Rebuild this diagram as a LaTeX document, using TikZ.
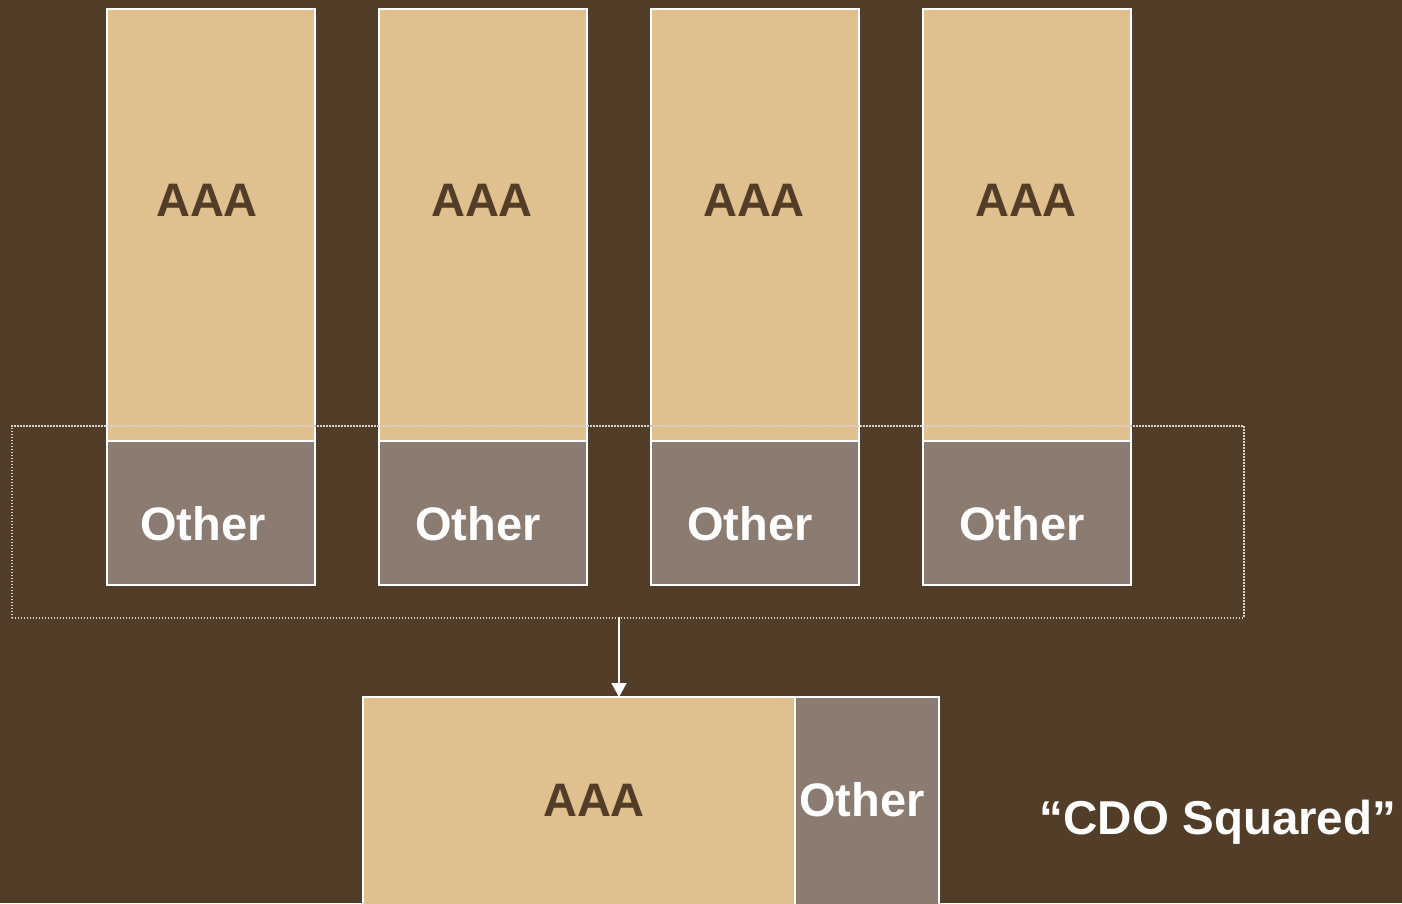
\documentclass[tikz,border=0pt]{standalone}
\usepackage{fontspec}
\setmainfont{Liberation Sans}
\usetikzlibrary{arrows.meta}
\definecolor{bg}{HTML}{523E28}
\definecolor{tan}{HTML}{DFC08E}
\definecolor{gry}{HTML}{8B7B70}
\definecolor{dotc}{HTML}{D9D2CB}
\tikzset{
  box/.style={draw=white, line width=2pt, anchor=north west, inner sep=0pt, outer sep=0pt},
  tanbox/.style={box, fill=tan},
  grybox/.style={box, fill=gry},
  darktxt/.style={text=bg, font=\bfseries\fontsize{47}{56}\selectfont, inner sep=0pt},
  lighttxt/.style={text=white, font=\bfseries\fontsize{47}{56}\selectfont, inner sep=0pt},
  dotbox/.style={draw=dotc, line width=1.5pt, dash pattern=on 1.5pt off 1.5pt, anchor=north west, inner sep=0pt, minimum width=1232pt, minimum height=192pt},
  arr/.style={draw=white, line width=1.5pt, -{Triangle[length=14pt,width=15pt]}}
}
\begin{document}
\begin{tikzpicture}[x=1pt,y=-1pt]
\fill[bg] (0,0) rectangle (1402,903);
\useasboundingbox (0,0) rectangle (1402,903);
\clip (0,0) rectangle (1402,903);
% top columns
\foreach \i/\x in {1/107,2/379,3/651,4/923}{
  \node[tanbox, minimum width=208pt, minimum height=432pt] (t\i) at (\x,9) {};
  \node[grybox, minimum width=208pt, minimum height=144pt] (o\i) at (\x,441) {};
}
\node[darktxt] (ta1) at (207,200) {AAA};
\node[darktxt] (ta2) at (482,200) {AAA};
\node[darktxt] (ta3) at (754,200) {AAA};
\node[darktxt] (ta4) at (1026,200) {AAA};
\node[lighttxt] (to1) at (203,524) {Other};
\node[lighttxt] (to2) at (478,524) {Other};
\node[lighttxt] (to3) at (750,524) {Other};
\node[lighttxt] (to4) at (1022,524) {Other};
% dotted group
\node[dotbox] (grp) at (11,425) {};
% bottom
\node[tanbox, minimum width=432pt, minimum height=230pt] (bA) at (363,697) {};
\node[grybox, minimum width=144pt, minimum height=230pt] (bO) at (795,697) {};
\node[darktxt] (bAt) at (594,800) {AAA};
\node[lighttxt] (bOt) at (862,800) {Other};
\coordinate (a1) at (619,617);
\draw[arr] (a1) -- (a1 |- bA.north);
\node[lighttxt, font=\bfseries\fontsize{47.5}{56}\selectfont, anchor=base] (cdo) at (1218,834) {“CDO Squared”};
\end{tikzpicture}
\end{document}
